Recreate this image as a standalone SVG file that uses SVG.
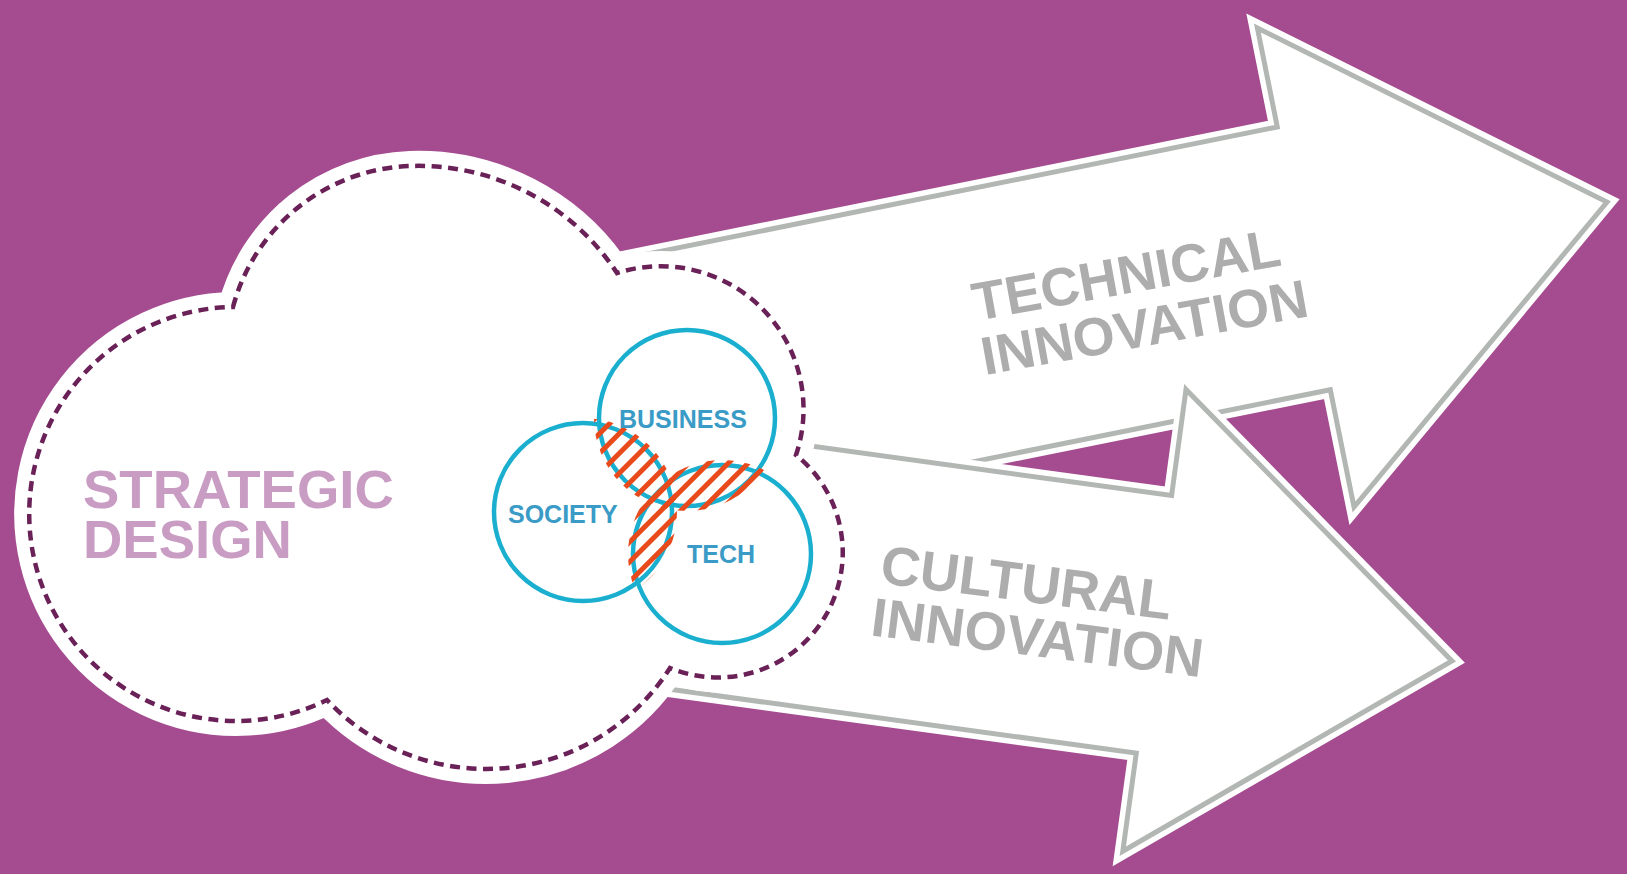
<svg xmlns="http://www.w3.org/2000/svg" width="1627" height="874" viewBox="0 0 1627 874">
  <defs>
    <style>
      .bg{fill:#A54C90}
      .arrow-halo{fill:#fff;stroke:#fff;stroke-width:16;stroke-linejoin:miter;stroke-miterlimit:10}
      .arrow-edge{fill:#fff;stroke:#B3B7B4;stroke-width:5;stroke-linejoin:miter;stroke-miterlimit:10}
      .arrow-label{font-family:"Liberation Sans",Arial,sans-serif;font-weight:bold;fill:#ADADAD}
      .cloud-body{fill:#fff;stroke:#fff;stroke-width:30;stroke-linejoin:round}
      .cloud-dash{fill:none;stroke:#6A2157;stroke-width:4.5;stroke-dasharray:10 6.5}
      .title{font-family:"Liberation Sans",Arial,sans-serif;font-weight:bold;font-size:54.5px;fill:#C99CC3}
      .ring{fill:none;stroke:#1AAFCF;stroke-width:4.5}
      .ring-label{font-family:"Liberation Sans",Arial,sans-serif;font-weight:bold;font-size:25px;fill:#3A9BC6}
    </style>
    <!-- outline of the cloud: six bumps meeting at inward cusps -->
    <path id="cloud-outline" d="M233 307 A190 190 0 0 1 410 166 A238 238 0 0 1 617 273 A143 143 0 0 1 796 455 A125 125 0 0 1 670 668 A218 218 0 0 1 327 700 A207 207 0 1 1 233 307 Z"/>
    <polygon id="arrow-upper-shape" points="515.6,280.6 1277.3,127 1257.4,28 1607,202 1354,507 1330.3,389.7 568.6,543.3"/>
    <polygon id="arrow-lower-shape" points="599,417 1171.6,495.5 1186,389.5 1452,661 1122.8,851.2 1136.3,753.1 563.7,674.7"/>
    <pattern id="hatch" width="14" height="14" patternUnits="userSpaceOnUse" patternTransform="rotate(45)">
      <line x1="2.5" y1="0" x2="2.5" y2="14" stroke="#E84A1B" stroke-width="5"/>
    </pattern>
    <clipPath id="clip-business"><circle cx="687" cy="418" r="93"/></clipPath>
    <clipPath id="clip-society"><circle cx="583" cy="512" r="94"/></clipPath>
    <clipPath id="clip-tech"><circle cx="722" cy="554" r="94"/></clipPath>
  </defs>

  <rect class="bg" x="0" y="0" width="1627" height="874"/>

  <g id="arrows">
    <g id="arrow-technical">
      <use href="#arrow-upper-shape" class="arrow-halo"/>
      <use href="#arrow-upper-shape" class="arrow-edge"/>
      <text class="arrow-label" font-size="54" transform="translate(976 321) rotate(-10.3)">
        <tspan x="0" y="0">TECHNICAL</tspan>
        <tspan x="-1" y="55">INNOVATION</tspan>
      </text>
    </g>
    <g id="arrow-cultural">
      <use href="#arrow-lower-shape" class="arrow-halo"/>
      <use href="#arrow-lower-shape" class="arrow-edge"/>
      <text class="arrow-label" font-size="54.5" transform="translate(879 583) rotate(7.2)">
        <tspan x="0" y="0">CULTURAL</tspan>
        <tspan x="-3" y="53">INNOVATION</tspan>
      </text>
    </g>
  </g>

  <g id="strategic-design">
    <use href="#cloud-outline" class="cloud-body"/>
    <use href="#cloud-outline" class="cloud-dash"/>
    <text class="title">
      <tspan x="83" y="508">STRATEGIC</tspan>
      <tspan x="83" y="558">DESIGN</tspan>
    </text>
  </g>

  <g id="venn">
    <circle class="ring" cx="687" cy="418" r="88"/>
    <circle class="ring" cx="583" cy="512" r="89"/>
    <circle class="ring" cx="722" cy="554" r="89"/>
    <!-- hatched overlaps of each pair of circles -->
    <g clip-path="url(#clip-business)">
      <rect x="470" y="310" width="360" height="350" fill="url(#hatch)" clip-path="url(#clip-society)"/>
    </g>
    <g clip-path="url(#clip-business)">
      <rect x="470" y="310" width="360" height="350" fill="url(#hatch)" clip-path="url(#clip-tech)"/>
    </g>
    <g clip-path="url(#clip-society)">
      <rect x="470" y="310" width="360" height="350" fill="url(#hatch)" clip-path="url(#clip-tech)"/>
    </g>
    <text class="ring-label" x="619" y="428">BUSINESS</text>
    <text class="ring-label" x="508" y="523">SOCIETY</text>
    <text class="ring-label" x="687" y="563">TECH</text>
  </g>
</svg>
